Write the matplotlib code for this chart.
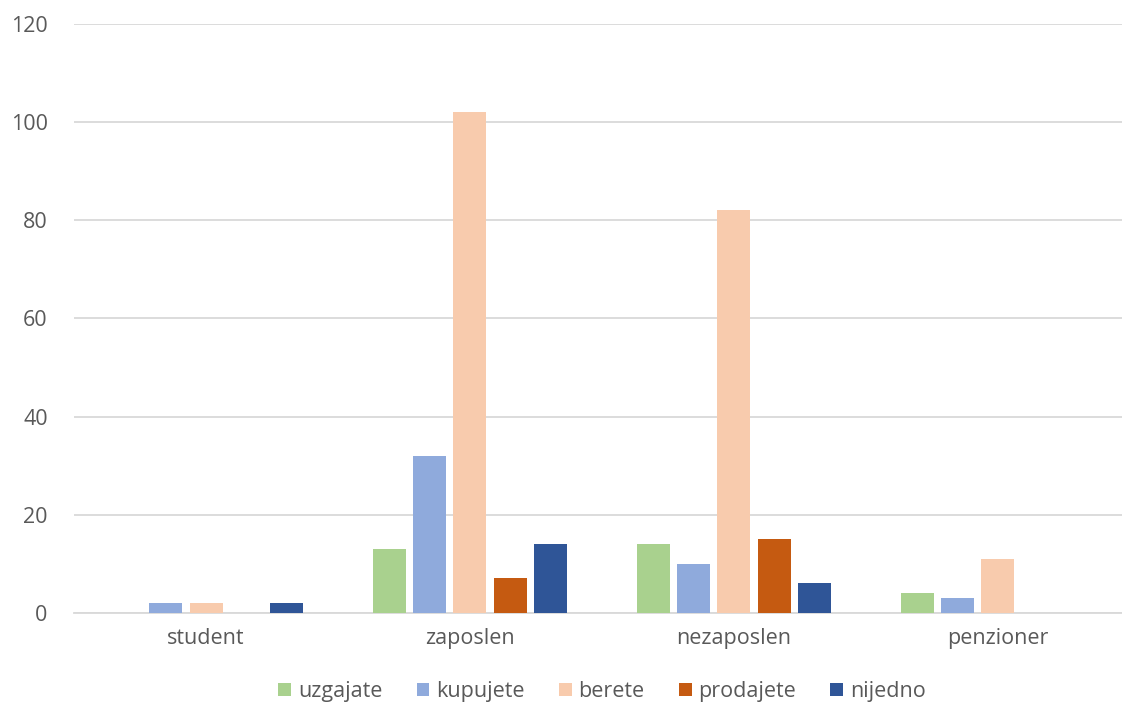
import numpy as np
import matplotlib
matplotlib.use("Agg")
import matplotlib.pyplot as plt

plt.rcParams['font.family'] = ['Open Sans', 'DejaVu Sans']

categories = ["student", "zaposlen", "nezaposlen", "penzioner"]
series_names = ["uzgajate", "kupujete", "berete", "prodajete", "nijedno"]
uzgajate = [0, 13, 14, 4]
kupujete = [2, 32, 10, 3]
berete = [2, 102, 82, 11]
prodajete = [0, 7, 15, 0]
nijedno = [2, 14, 6, 0]
colors = ["#A9D18E", "#8FAADC", "#F8CBAD", "#C55A11", "#2F5597"]

series = [uzgajate, kupujete, berete, prodajete, nijedno]

fig = plt.figure(figsize=(11.22, 7.06), dpi=100)
ax = fig.add_axes([0.066, 0.132, 0.941, 0.834])

x = np.arange(len(categories))
step = 0.152
width = 0.125
for i, (name, vals) in enumerate(zip(series_names, series)):
    ax.bar(x + (i - 2) * step, vals, width, color=colors[i], label=name, zorder=3)

ax.set_xlim(-0.5, 3.5)
ax.set_ylim(0, 120)
ax.set_yticks(range(0, 121, 20))
ax.set_xticks(x)
ax.set_xticklabels(categories)
ax.grid(axis='y', color='#D9D9D9', linewidth=1.3, zorder=0)
for s in ['top', 'right', 'left']:
    ax.spines[s].set_visible(False)
ax.spines['bottom'].set_color('#D9D9D9')
ax.spines['bottom'].set_linewidth(1.3)
ax.tick_params(axis='both', length=0, labelsize=15.5, labelcolor='#595959')
ax.tick_params(axis='x', pad=11)
ax.tick_params(axis='y', pad=19)

ax.legend(loc='upper center', bbox_to_anchor=(0.5, -0.083), ncol=5, frameon=False,
          fontsize=15.5, labelcolor='#595959', handlelength=0.6, handleheight=0.6,
          handletextpad=0.3, columnspacing=1.6)

fig.savefig("out.png", dpi=100)
